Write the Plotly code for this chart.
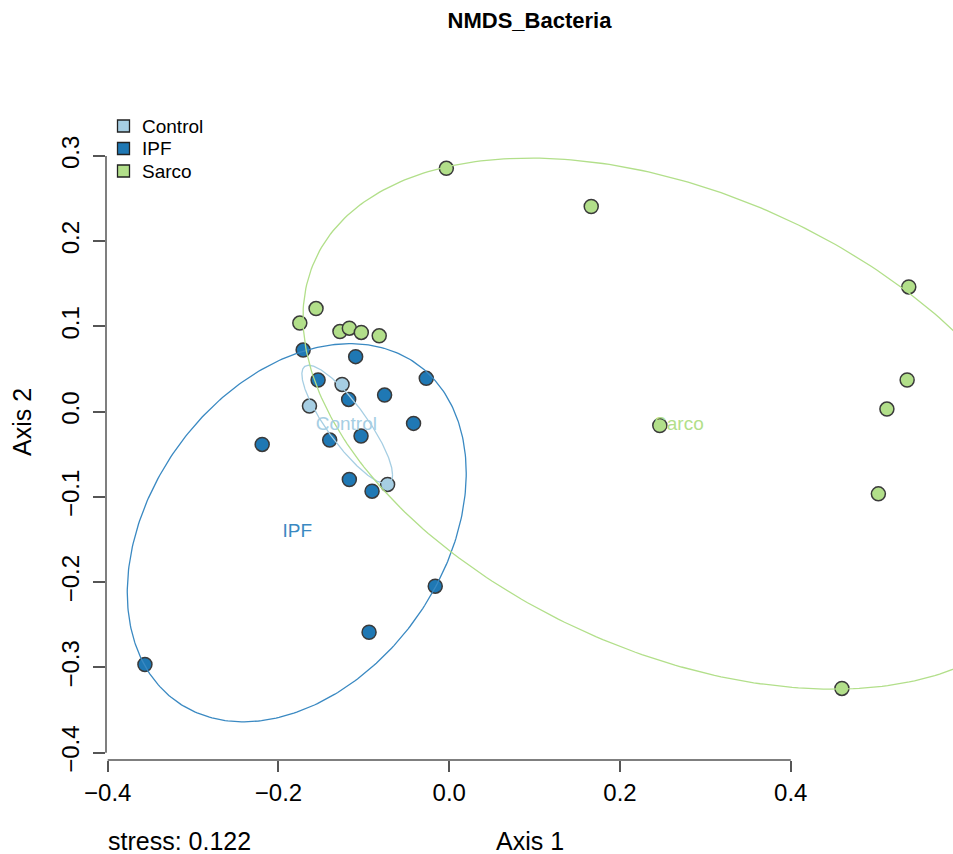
import numpy as np
import plotly.graph_objects as go

# ---------------- data ----------------
groups = ["Control", "IPF", "Sarco"]
colors = {"Control": "#A6CEE3", "IPF": "#1F78B4", "Sarco": "#B2DF8A"}
line_colors = {"Control": "#A6CEE3", "IPF": "#3A89C2", "Sarco": "#B2DF8A"}

control_x = [-0.1255, -0.1637, -0.0722]
control_y = [0.0320, 0.0066, -0.0853]

ipf_x = [-0.0164, -0.0939, -0.3564, -0.2191, -0.0269, -0.0418, -0.1711, -0.1096,
         -0.1536, -0.1178, -0.0757, -0.1033, -0.1400, -0.1170, -0.0904]
ipf_y = [-0.2047, -0.2587, -0.2966, -0.0384, 0.0391, -0.0137, 0.0723, 0.0646,
         0.0371, 0.0144, 0.0195, -0.0286, -0.0333, -0.0795, -0.0932]

sarco_x = [-0.0034, 0.1663, 0.5382, 0.5363, 0.5126, 0.5026, 0.4599, 0.2466,
           -0.1560, -0.1750, -0.1280, -0.1170, -0.1030, -0.0820]
sarco_y = [0.2855, 0.2407, 0.1464, 0.0372, 0.0031, -0.0964, -0.3246, -0.0162,
           0.1210, 0.1040, 0.0940, 0.0980, 0.0930, 0.0890]

# ellipse parameters (centre, sd along axes, correlation) per group
ell_cx = {"Control": -0.1195, "IPF": -0.1786, "Sarco": 0.2720}
ell_cy = {"Control": -0.0150, "IPF": -0.1420, "Sarco": -0.0140}
ell_sx = {"Control": 0.0531, "IPF": 0.1985, "Sarco": 0.4433}
ell_sy = {"Control": 0.0695, "IPF": 0.2218, "Sarco": 0.3115}
ell_r = {"Control": -0.85, "IPF": 0.315, "Sarco": -0.40}

# centroid label positions
lab_x = {"Control": -0.1205, "IPF": -0.1780, "Sarco": 0.2690}
lab_y = {"Control": -0.0160, "IPF": -0.1410, "Sarco": -0.0154}

x_ticks = [-0.4, -0.2, 0.0, 0.2, 0.4]
x_ticktext = ["\u22120.4", "\u22120.2", "0.0", "0.2", "0.4"]
y_ticks = [-0.4, -0.3, -0.2, -0.1, 0.0, 0.1, 0.2, 0.3]
y_ticktext = ["\u22120.4", "\u22120.3", "\u22120.2", "\u22120.1", "0.0", "0.1", "0.2", "0.3"]

title = "NMDS_Bacteria"
stress_text = "stress: 0.122"

# ---------------- figure ----------------
FONT = "Liberation Sans, Arial, Helvetica, sans-serif"
pts = {"Control": (control_x, control_y), "IPF": (ipf_x, ipf_y), "Sarco": (sarco_x, sarco_y)}

fig = go.Figure()
for g in groups:
    xs, ys = pts[g]
    fig.add_trace(go.Scatter(
        x=xs, y=ys, mode="markers", showlegend=False, name=g,
        marker=dict(size=14, color=colors[g], line=dict(color="#3a3a3a", width=1.5)),
        cliponaxis=True))

t = np.linspace(0, 2 * np.pi, 361)
for g in groups:
    sx, sy, r = ell_sx[g], ell_sy[g], ell_r[g]
    cov = np.array([[sx * sx, r * sx * sy], [r * sx * sy, sy * sy]])
    L = np.linalg.cholesky(cov)
    e = L @ np.vstack([np.cos(t), np.sin(t)])
    fig.add_trace(go.Scatter(
        x=ell_cx[g] + e[0], y=ell_cy[g] + e[1], mode="lines", showlegend=False,
        line=dict(color=line_colors[g], width=1.3), hoverinfo="skip"))

for g in groups:
    fig.add_trace(go.Scatter(
        x=[lab_x[g]], y=[lab_y[g]], mode="text", text=[g], showlegend=False,
        textfont=dict(family=FONT, size=19, color=line_colors[g]), textposition="middle center"))

xr = [-0.402, 0.590]
yr = [-0.4086, 0.3598]

# plot area geometry (pixels) for the hand-drawn legend
PL, PW, PB, PH = 106, 847, 760, 655
shapes = [
    dict(type="line", xref="x", yref="paper", x0=x_ticks[0], x1=x_ticks[-1], y0=0, y1=0,
         line=dict(color="#555", width=1.5)),
    dict(type="line", xref="paper", yref="y", x0=0, x1=0, y0=y_ticks[0], y1=y_ticks[-1],
         line=dict(color="#555", width=1.5)),
]
annotations = [
    dict(text="Axis 1", xref="paper", yref="paper", x=0.5, y=-81 / 655, xanchor="center",
         yanchor="middle", showarrow=False, font=dict(family=FONT, size=25, color="black")),
    dict(text=stress_text, xref="paper", yref="paper", x=0.0, y=-81 / 655, xanchor="left",
         yanchor="middle", showarrow=False, font=dict(family=FONT, size=25, color="black")),
    dict(text="Axis 2", xref="paper", yref="paper", x=-84 / 847, y=(760 - 422) / 655,
         xanchor="center", yanchor="middle", textangle=-90, showarrow=False,
         font=dict(family=FONT, size=25, color="black")),
]
for i, g in enumerate(groups):
    cy = 126 + 22.5 * i
    shapes.append(dict(type="rect", xref="paper", yref="paper",
                       x0=(117.5 - PL) / PW, x1=(129.5 - PL) / PW,
                       y0=(PB - (cy + 6)) / PH, y1=(PB - (cy - 6)) / PH,
                       fillcolor=colors[g], line=dict(color="#222", width=1.3)))
    annotations.append(dict(text=g, xref="paper", yref="paper", x=(140 - PL) / PW,
                            y=(PB - cy) / PH, xanchor="left", yanchor="middle", showarrow=False,
                            font=dict(family=FONT, size=19, color="black")))

fig.update_layout(
    width=953, height=854,
    margin=dict(l=106, r=0, t=105, b=94),
    paper_bgcolor="white", plot_bgcolor="white", showlegend=False,
    font=dict(family=FONT, color="black"),
    title=dict(text="<b>" + title + "</b>", x=0.5, xref="paper", y=1 - 20 / 854, yanchor="middle",
               font=dict(family=FONT, size=22, color="black")),
    xaxis=dict(range=xr, showgrid=False, zeroline=False, showline=False,
               tickmode="array", tickvals=x_ticks, ticktext=x_ticktext,
               ticks="outside", ticklen=11, tickwidth=1.5, tickcolor="#555",
               tickfont=dict(family=FONT, size=24, color="black")),
    yaxis=dict(range=yr, showgrid=False, zeroline=False, showline=False,
               tickmode="array", tickvals=y_ticks, ticktext=y_ticktext,
               ticks="outside", ticklen=12, tickwidth=1.5, tickcolor="#555", tickangle=-90,
               ticklabelstandoff=4,
               tickfont=dict(family=FONT, size=24, color="black")),
    shapes=shapes,
    annotations=annotations,
)

fig.write_html("out.html")
